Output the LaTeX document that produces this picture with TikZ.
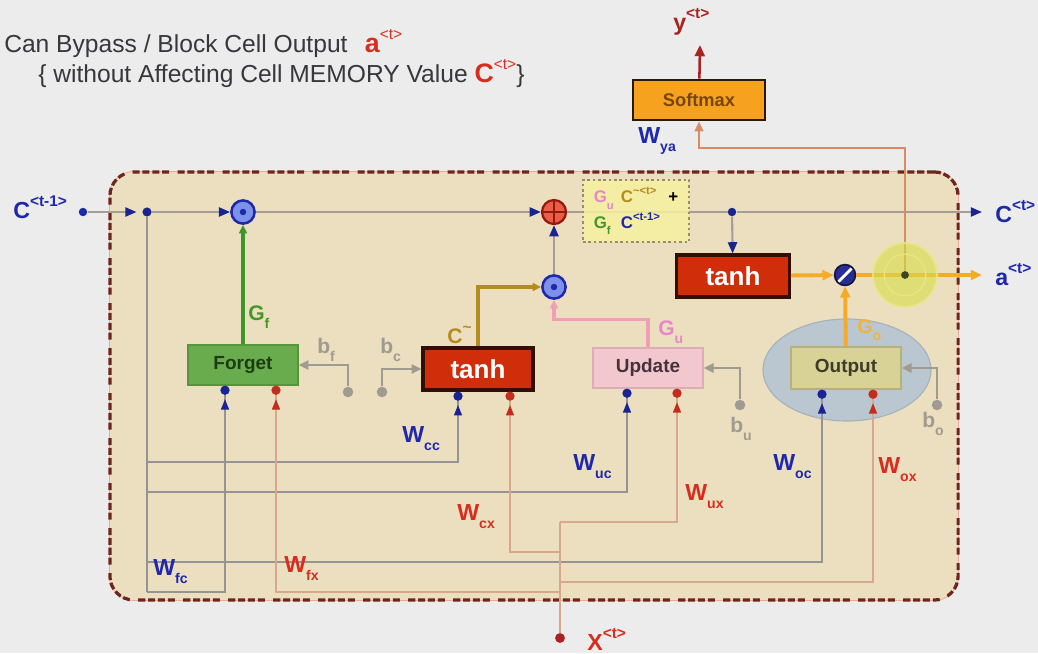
\documentclass[tikz,border=0pt]{standalone}
\usepackage{fontspec}
\setmainfont{Liberation Sans}
\usepackage{xcolor}
\usepackage{tikz}
\usetikzlibrary{shapes.geometric, arrows.meta, positioning, calc}

\definecolor{bgcol}{RGB}{236,236,236}
\definecolor{cellbg}{RGB}{236,223,192}
\definecolor{bordred}{RGB}{110,38,28}
\definecolor{bordpink}{RGB}{232,165,145}
\definecolor{titlegray}{RGB}{55,55,60}
\definecolor{memgray}{RGB}{165,158,148}
\definecolor{wireb}{RGB}{150,147,148}
\definecolor{wirer}{RGB}{216,168,142}
\definecolor{pinblue}{RGB}{25,35,145}
\definecolor{pinred}{RGB}{195,45,30}
\definecolor{labblue}{RGB}{30,40,170}
\definecolor{labred}{RGB}{215,45,30}
\definecolor{biasgray}{RGB}{160,155,145}
\definecolor{forgetfill}{RGB}{104,172,78}
\definecolor{forgetedge}{RGB}{85,150,60}
\definecolor{tanhred}{RGB}{208,45,10}
\definecolor{tanhedge}{RGB}{50,15,5}
\definecolor{updatefill}{RGB}{242,200,206}
\definecolor{updateedge}{RGB}{222,172,182}
\definecolor{outputfill}{RGB}{216,210,150}
\definecolor{outputedge}{RGB}{182,176,122}
\definecolor{ellfill}{RGB}{186,198,208}
\definecolor{elledge}{RGB}{165,178,188}
\definecolor{softfill}{RGB}{247,162,30}
\definecolor{softedge}{RGB}{40,25,10}
\definecolor{softtext}{RGB}{120,70,10}
\definecolor{orangeline}{RGB}{245,170,40}
\definecolor{goldc}{RGB}{180,140,30}
\definecolor{pinkline}{RGB}{240,160,180}
\definecolor{gucol}{RGB}{232,135,200}
\definecolor{gfcol}{RGB}{70,150,40}
\definecolor{gocol}{RGB}{240,180,60}
\definecolor{greenline}{RGB}{60,150,40}
\definecolor{yline}{RGB}{215,140,100}
\definecolor{ydark}{RGB}{170,35,35}
\definecolor{opblue}{RGB}{30,40,170}
\definecolor{oplight}{RGB}{125,145,235}
\definecolor{addedge}{RGB}{150,25,15}
\definecolor{addfill}{RGB}{232,95,70}
\definecolor{swfill}{RGB}{40,45,150}
\definecolor{swedge}{RGB}{20,20,60}
\definecolor{glowfill}{RGB}{214,220,70}
\definecolor{glowring}{RGB}{232,232,140}
\definecolor{glowdot}{RGB}{60,70,40}
\definecolor{formfill}{RGB}{246,240,160}
\definecolor{formedge}{RGB}{150,140,110}

% labels: letter with lowered index, small raised time step
\newcommand{\lbl}[3][10]{#2\raisebox{-0.38em}{\fontsize{#1}{#1}\selectfont #3}}
\newcommand{\tsup}[2][11]{\raisebox{0.48em}{\fontsize{#1}{#1}\selectfont #2}}

\begin{document}
\begin{tikzpicture}[
        x=0.025cm, y=-0.025cm,
        >={Triangle[length=7pt, width=6pt]},
        base/.style={align=center, draw, inner sep=0pt, font=\bfseries\fontsize{13.5}{13.5}\selectfont, minimum width=2.75cm, minimum height=1cm},
        gatebox/.style={base, line width=0.9pt},
        tanhbox/.style={base, fill=tanhred, draw=tanhedge, line width=2.2pt, text=white, font=\bfseries\fontsize{18.5}{18.5}\selectfont, minimum height=1.05cm},
        mulop/.style={circle, draw=opblue, fill=oplight, line width=1.8pt, minimum size=0.58cm, inner sep=0pt, path picture={\fill[opblue] (path picture bounding box.center) circle (2.3pt);}},
        addop/.style={circle, draw=addedge, fill=addfill, line width=1.6pt, minimum size=0.6cm, inner sep=0pt, path picture={\draw[addedge, line width=1.5pt] (path picture bounding box.north) -- (path picture bounding box.south) (path picture bounding box.west) -- (path picture bounding box.east);}},
        jdot/.style={circle, fill=#1, inner sep=0pt, minimum size=6pt},
        lab/.style={anchor=base west, inner sep=0pt, font=\bfseries\fontsize{16.5}{16.5}\selectfont, text=#1},
        blab/.style={anchor=base west, inner sep=0pt, font=\bfseries\fontsize{15}{15}\selectfont, text=biasgray},
        mem/.style={draw=memgray, line width=1.5pt},
        memarrow/.style={mem, -{Triangle[length=8pt, width=6.5pt, color=pinblue]}},
        bwire/.style={draw=wireb, line width=1.5pt},
        rwire/.style={draw=wirer, line width=1.5pt},
        pinb/.style={bwire, -{Triangle[length=7.5pt, width=5.5pt, color=pinblue, sep=3pt] Circle[length=6.5pt, color=pinblue]}},
        pinr/.style={rwire, -{Triangle[length=7.5pt, width=5.5pt, color=pinred, sep=3pt] Circle[length=6.5pt, color=pinred]}},
        bias/.style={draw=biasgray, line width=1.5pt, -{Triangle[length=7pt, width=6.5pt]}},
        gateline/.style={draw=#1, line width=2.2pt, -{Triangle[length=6pt, width=5.5pt]}},
        oline/.style={draw=orangeline, line width=2.8pt, -{Triangle[length=8pt, width=7pt]}},
        cellbox/.style={rounded corners=0.6cm, fill=cellbg, draw=bordred, line width=2.3pt,
            dash pattern=on 5pt off 2pt on 5pt off 2pt on 5pt off 2pt on 5pt off 6pt,
            preaction={draw=bordpink, line width=1.2pt, solid}},
        formbox/.style={draw=formedge, dotted, line width=1.8pt, fill=formfill, fill opacity=0.85, text opacity=1, minimum width=2.65cm, minimum height=1.55cm, font=\bfseries\fontsize{12}{13}\selectfont, inner sep=2pt}
    ]

        \useasboundingbox (0,0) rectangle (1038,653);
        \fill[bgcol] (0,0) rectangle (1038,653);

        % heading
        \node[anchor=base west, inner sep=0pt, text=titlegray, font=\fontsize{17.5}{17.5}\selectfont] (title1) at (4,52)
            {Can Bypass / Block Cell Output\hspace{0.7em}\textcolor{labred}{\fontsize{19}{19}\selectfont\textbf{a}\tsup{<t>}}};
        \node[anchor=base west, inner sep=0pt, text=titlegray, font=\fontsize{17.5}{17.5}\selectfont] (title2) at (38,82)
            {\{ without Affecting Cell MEMORY Value \textcolor{labred}{\fontsize{19}{19}\selectfont\textbf{C}\tsup{<t>}}\}};

        % cell
        \node[cellbox, minimum width=21.2cm, minimum height=10.7cm] (cell) at (534,386) {};
        \node[ellipse, fill=ellfill, draw=elledge, line width=0.8pt, minimum width=4.2cm, minimum height=2.55cm] (oell) at (847,370) {};

        % gates
        \node[gatebox, fill=forgetfill, draw=forgetedge, text={rgb,255:red,30;green,60;blue,20}] (forget) at (243,365) {Forget};
        \node[tanhbox] (ctanh) at (478,369) {tanh};
        \node[gatebox, fill=updatefill, draw=updateedge, text={rgb,255:red,70;green,50;blue,60}] (update) at (648,368) {Update};
        \node[gatebox, fill=outputfill, draw=outputedge, text={rgb,255:red,60;green,60;blue,40}, minimum height=1.05cm] (output) at (846,368) {Output};
        \node[tanhbox, minimum width=2.82cm] (htanh) at (733,276) {tanh};
        \node[base, fill=softfill, draw=softedge, line width=2pt, text=softtext, minimum width=3.3cm, font=\bfseries\fontsize{13}{13}\selectfont] (softmax) at (699,100) {Softmax};

        % operators and junctions
        \node[jdot=labblue] (cprevdot) at (83,212) {};
        \node[jdot=pinblue, minimum size=6.5pt] (jn) at (147,212) {};
        \node[mulop] (fmul) at (243,212) {};
        \node[addop] (add) at (554,212) {};
        \node[mulop] (umul) at (554,287) {};
        \node[jdot=pinblue] (jc) at (732,212) {};
        \node[circle, draw=swedge, fill=swfill, line width=1.2pt, minimum size=0.52cm, inner sep=0pt,
            path picture={\draw[white, line width=2pt] (path picture bounding box.south west) -- (path picture bounding box.north east);}] (sw) at (845,275) {};
        \coordinate (cnext) at (982,212);
        \coordinate (aend) at (982,275);
        \coordinate (acenter) at (905,275);
        \coordinate (ya) at (905,148);
        \coordinate (yend) at (700,45);
        \node[jdot=ydark, minimum size=7pt] (xdot) at (560,638) {};

        % bias inputs
        \node[jdot=biasgray, minimum size=7.5pt] (bfdot) at (348,392) {};
        \node[jdot=biasgray, minimum size=7.5pt] (bcdot) at (382,392) {};
        \node[jdot=biasgray, minimum size=7.5pt] (budot) at (740,405) {};
        \node[jdot=biasgray, minimum size=7.5pt] (bodot) at (937,405) {};

        % pins under the gates
        \coordinate (fpb) at ($(forget.south)+(-18,0)$);
        \coordinate (fpr) at ($(forget.south)+(33,0)$);
        \coordinate (cpb) at ($(ctanh.south)+(-20,0)$);
        \coordinate (cpr) at ($(ctanh.south)+(32,0)$);
        \coordinate (upb) at ($(update.south)+(-21,0)$);
        \coordinate (upr) at ($(update.south)+(29,0)$);
        \coordinate (opb) at ($(output.south)+(-24,0)$);
        \coordinate (opr) at ($(output.south)+(27,0)$);

        % taps on the two trunks
        \coordinate (tfc) at (147,592);
        \coordinate (tcc) at (147,462);
        \coordinate (tuc) at (147,492);
        \coordinate (toc) at (147,562);
        \coordinate (xux) at (560,522);
        \coordinate (xcx) at (560,552);
        \coordinate (xox) at (560,582);
        \coordinate (xfx) at (560,592);

        % input wires
        \draw[bwire] (jn) -- (tfc);
        \draw[pinb] (tfc) -| (fpb);
        \draw[pinb] (tcc) -| (cpb);
        \draw[pinb] (tuc) -| (upb);
        \draw[pinb] (toc) -| (opb);
        \draw[rwire] (xdot) -- (xux);
        \draw[pinr] (xux) -| (upr);
        \draw[pinr] (xcx) -| (cpr);
        \draw[pinr] (xox) -| (opr);
        \draw[pinr] (xfx) -| (fpr);

        \draw[bias] (bfdot) |- (forget.east);
        \draw[bias] (bcdot) |- (ctanh.west);
        \draw[bias] (budot) |- (update.east);
        \draw[bias] (bodot) |- (output.east);

        % memory line
        \draw[memarrow, shorten >=4pt] (cprevdot) -- (jn);
        \draw[memarrow] (jn) -- (fmul);
        \draw[memarrow] (fmul) -- (add);
        \draw[mem] (add) -- (jc);
        \draw[memarrow] (jc) -- (cnext);
        \draw[memarrow] (umul) -- (add);
        \draw[memarrow] (jc) -- (htanh);

        % gate outputs
        \draw[gateline=greenline] (forget) -- (fmul);
        \draw[gateline=goldc] (ctanh.north) |- (umul);
        \draw[gateline=pinkline] (update.north) |- ++(0,-28) -| (umul);
        \draw[oline] (htanh) -- (sw);
        \draw[oline] (output) -- (sw);
        \draw[oline] (sw) -- (aend);
        \draw[draw=yline, line width=1.8pt, -{Triangle[length=7pt, width=6pt]}] (acenter) -- (ya) -| (softmax);
        \draw[draw=ydark, line width=1.8pt, -{Triangle[length=8pt, width=7pt]}] (softmax) -- (yend);

        % formula box and output glow
        \node[formbox] (gform) at (636,211) {%
            \begin{tabular}{@{}l@{\hspace{5pt}}l@{\hspace{6pt}}l@{}}
            \textcolor{gucol}{\lbl[8]{G}{u}} & \textcolor{goldc}{C\tsup[8]{\textasciitilde<t>}} & \textcolor{black}{+}\\[3pt]
            \textcolor{gfcol}{\lbl[8]{G}{f}} & \textcolor{labblue}{C\tsup[8]{<t-1>}} & \\
            \end{tabular}};
        \node[circle, minimum size=1.6cm, fill=glowfill, fill opacity=0.6, draw=glowring, draw opacity=0.8, line width=1.5pt] (aglow) at (acenter) {};
        \draw[glowring, line width=1pt, opacity=0.8] (aglow.center) circle[radius=0.52cm];
        \node[jdot=glowdot, minimum size=5.5pt] (acen) at (aglow.center) {};

        % labels
        \node[lab=labblue] (lcprev) at (13,218) {C\tsup{<t-1>}};
        \node[lab=labblue] (lcnext) at (995,222) {C\tsup{<t>}};
        \node[lab=labblue] (lanext) at (995,285) {a\tsup{<t>}};
        \node[lab=ydark] (lynext) at (673,30) {y\tsup{<t>}};
        \node[lab=labred] (lxnow) at (587,650) {X\tsup{<t>}};

        \node[lab=gfcol, font=\bfseries\fontsize{15}{15}\selectfont] (lgf) at (248,320) {\lbl{G}{f}};
        \node[lab=goldc, font=\bfseries\fontsize{15}{15}\selectfont] (lct) at (447,343) {C\tsup{\textasciitilde}};
        \node[lab=gucol, font=\bfseries\fontsize{15}{15}\selectfont] (lgu) at (658,335) {\lbl{G}{u}};
        \node[lab=gocol, font=\bfseries\fontsize{14}{14}\selectfont] (lgo) at (857,333) {\lbl{G}{o}};

        \node[blab] (lbf) at (317,353) {\lbl{b}{f}};
        \node[blab] (lbc) at (380,353) {\lbl{b}{c}};
        \node[blab] (lbu) at (730,432) {\lbl{b}{u}};
        \node[blab] (lbo) at (922,427) {\lbl{b}{o}};

        \node[lab=labblue] (lwya) at (638,143) {\lbl{W}{ya}};
        \node[lab=labblue] (lwcc) at (402,442) {\lbl{W}{cc}};
        \node[lab=labblue] (lwuc) at (573,470) {\lbl{W}{uc}};
        \node[lab=labred] (lwcx) at (457,520) {\lbl{W}{cx}};
        \node[lab=labred] (lwux) at (685,500) {\lbl{W}{ux}};
        \node[lab=labblue] (lwoc) at (773,470) {\lbl{W}{oc}};
        \node[lab=labred] (lwox) at (878,473) {\lbl{W}{ox}};
        \node[lab=labblue] (lwfc) at (153,575) {\lbl{W}{fc}};
        \node[lab=labred] (lwfx) at (284,572) {\lbl{W}{fx}};

    \end{tikzpicture}
\end{document}
